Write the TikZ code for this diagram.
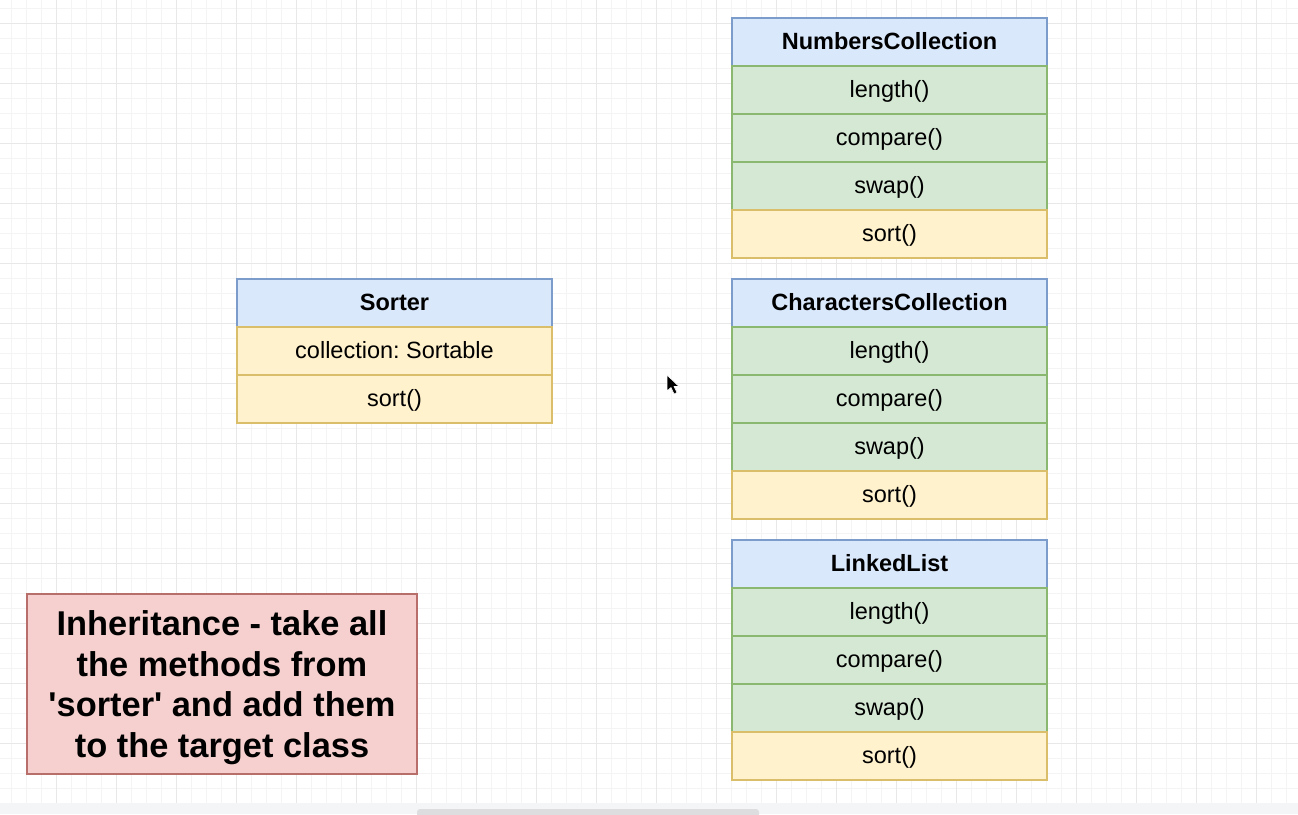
\documentclass[tikz,border=0pt]{standalone}
\usepackage{fontspec}
\setmainfont{Liberation Sans}
\frenchspacing
\definecolor{hfill}{HTML}{DAE8FC}
\definecolor{hdraw}{HTML}{7C9CCB}
\definecolor{gfill}{HTML}{D5E8D4}
\definecolor{gdraw}{HTML}{8BB870}
\definecolor{yfill}{HTML}{FFF2CC}
\definecolor{ydraw}{HTML}{DBBE6A}
\definecolor{pfill}{HTML}{F5D0CE}
\definecolor{pdraw}{HTML}{B86E6B}
\definecolor{gridminor}{HTML}{F4F4F4}
\definecolor{gridmajor}{HTML}{E8E8E8}
\definecolor{stripcol}{HTML}{F4F5F6}
\definecolor{scrollcol}{HTML}{DDDDDF}
\begin{document}
\begin{tikzpicture}[x=1pt,y=-1pt,
  cell/.style={draw, line width=1.3pt, minimum width=315pt, minimum height=48pt,
    inner sep=0pt, text height=19.5pt, text depth=4pt,
    font=\fontsize{23.5}{28}\selectfont\frenchspacing, text=black},
  head/.style={cell, fill=hfill, draw=hdraw, font=\fontsize{23.5}{28}\selectfont\bfseries},
  meth/.style={cell, fill=gfill, draw=gdraw},
  own/.style={cell, fill=yfill, draw=ydraw},
  note/.style={draw=pdraw, fill=pfill, line width=1.3pt, minimum width=390pt,
    minimum height=180pt, inner sep=0pt, align=center, text depth=0pt,
    font=\fontsize{34.4}{40.5}\selectfont\bfseries},
  minor/.style={draw=gridminor, line width=0.8pt},
  major/.style={draw=gridmajor, line width=1pt}]
\useasboundingbox (0,0) rectangle (1298,814);
\fill[white] (0,0) rectangle (1298,814);
% grid
\foreach \x in {11,26,...,1298} \draw[minor] (\x,0) -- (\x,803);
\foreach \y in {8,23,...,803} \draw[minor] (0,\y) -- (1298,\y);
\foreach \x in {56,116,...,1298} \draw[major] (\x,0) -- (\x,803);
\foreach \y in {23,83,...,803} \draw[major] (0,\y) -- (1298,\y);
% bottom strip and scrollbar
\fill[stripcol] (0,803) rectangle (1298,814);
\fill[scrollcol, rounded corners=3pt] (417,809) rectangle (759,818);

% NumbersCollection
\node[head] (nch) at (889.5,42) {NumbersCollection};
\node[meth] (nc1) at (889.5,90) {length()};
\node[meth] (nc2) at (889.5,138) {compare()};
\node[meth] (nc3) at (889.5,186) {swap()};
\node[own]  (nc4) at (889.5,234) {sort()};

% CharactersCollection
\node[head] (cch) at (889.5,303) {CharactersCollection};
\node[meth] (cc1) at (889.5,351) {length()};
\node[meth] (cc2) at (889.5,399) {compare()};
\node[meth] (cc3) at (889.5,447) {swap()};
\node[own]  (cc4) at (889.5,495) {sort()};

% LinkedList
\node[head] (llh) at (889.5,564) {LinkedList};
\node[meth] (ll1) at (889.5,612) {length()};
\node[meth] (ll2) at (889.5,660) {compare()};
\node[meth] (ll3) at (889.5,708) {swap()};
\node[own]  (ll4) at (889.5,756) {sort()};

% Sorter
\node[head] (srh) at (394.5,303) {Sorter};
\node[own]  (sr1) at (394.5,351) {collection: Sortable};
\node[own]  (sr2) at (394.5,399) {sort()};

% note
\node[note] (note) at (222,684) {Inheritance - take all\\the methods from\\\textquotesingle sorter\textquotesingle{} and add them\\to the target class};

% mouse cursor
\filldraw[fill=black, draw=white, line width=0.6pt, line join=round]
  (667,375) -- (667,391) -- (671,387.5) -- (674,394) -- (677,392.5) -- (674,386.5) -- (679,386.5) -- cycle;
\end{tikzpicture}
\end{document}
